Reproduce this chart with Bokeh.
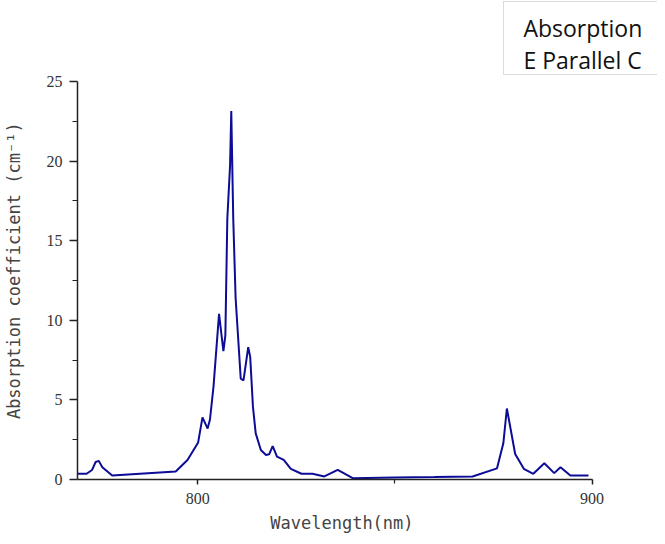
from bokeh.plotting import figure
from bokeh.models import Range1d, FixedTicker, BoxAnnotation, Label
from bokeh.embed import file_html
from bokeh.resources import INLINE

wavelength = [769.6, 771.8, 773.2, 774.1, 774.9, 775.8, 778.3, 794.4, 797.4, 800.1,
              801.2, 802.5, 803.1, 804.0, 805.4, 806.5, 807.0, 807.5, 808.2, 808.5,
              809.0, 809.6, 810.9, 811.6, 812.8, 813.3, 814.0, 814.7, 816.0, 817.3,
              818.1, 819.0, 820.1, 821.8, 823.6, 826.3, 829.1, 832.1, 835.5, 839.3,
              850.0, 860.0, 869.7, 875.9, 877.5, 878.4, 880.5, 882.7, 885.1, 887.9,
              890.4, 892.0, 894.5, 899.1]
absorption = [0.36, 0.36, 0.6, 1.1, 1.17, 0.77, 0.25, 0.5, 1.23, 2.33,
              3.9, 3.2, 3.77, 5.85, 10.4, 8.06, 9.06, 16.4, 19.75, 23.15,
              16.4, 11.4, 6.33, 6.23, 8.31, 7.7, 4.56, 2.9, 1.85, 1.54,
              1.58, 2.1, 1.44, 1.23, 0.67, 0.36, 0.36, 0.19, 0.6, 0.08,
              0.12, 0.15, 0.19, 0.7, 2.27, 4.46, 1.6, 0.67, 0.36, 1.02,
              0.4, 0.77, 0.25, 0.25]

x_ticks = [800, 900]
x_minor = [850]
y_ticks = [0, 5, 10, 15, 20, 25]
y_minor = [2.5, 7.5, 12.5, 17.5, 22.5]
legend_lines = ["Absorption", "E Parallel C"]
x_title = "Wavelength(nm)"
y_title = "Absorption coefficient (cm⁻¹)"

# frame spans to the top and right canvas edges; axes are bounded to the data window
p = figure(width=657, height=536, output_backend="svg", toolbar_location=None,
           x_range=Range1d(769.5, 916.6), y_range=Range1d(0, 30.09),
           min_border_left=77, min_border_right=0, min_border_top=0, min_border_bottom=57)
p.outline_line_color = None
p.grid.grid_line_color = None
p.background_fill_color = "white"

p.line(wavelength, absorption, line_color="#0c0c96", line_width=2)

for ax in (p.xaxis[0], p.yaxis[0]):
    ax.axis_line_color = "#222222"
    ax.axis_line_width = 1.5
    ax.major_tick_line_color = "#222222"
    ax.minor_tick_line_color = "#222222"
    ax.major_tick_line_width = 1.5
    ax.minor_tick_line_width = 1.2
    ax.major_tick_in = 0
    ax.minor_tick_in = 0
    ax.major_label_text_font = "Liberation Serif"
    ax.major_label_text_font_size = "16px"
    ax.major_label_text_color = "#333333"
    ax.axis_label_text_font = "DejaVu Sans Mono"
    ax.axis_label_text_font_size = "17px"
    ax.axis_label_text_font_style = "normal"
    ax.axis_label_text_color = "#444444"

p.xaxis.bounds = (769.5, 900)
p.yaxis.bounds = (0, 25)
p.xaxis.ticker = FixedTicker(ticks=x_ticks, minor_ticks=x_minor)
p.yaxis.ticker = FixedTicker(ticks=y_ticks, minor_ticks=y_minor)
p.xaxis.major_tick_out = 5
p.xaxis.minor_tick_out = 4
p.yaxis.major_tick_out = 8
p.yaxis.minor_tick_out = 5
p.xaxis.major_label_standoff = 8
p.yaxis.major_label_standoff = 7
# trailing no-break spaces re-centre the titles on the bounded axes
p.xaxis.axis_label = x_title + "\u00a0" * 5
p.yaxis.axis_label = y_title + "\u00a0" * 6
p.xaxis.axis_label_standoff = 6
p.yaxis.axis_label_standoff = 20

box = BoxAnnotation(left=877.55, right=940, bottom=25.44, top=30.03,
                    fill_color="white", fill_alpha=1.0,
                    line_color="#888888", line_width=1)
p.add_layout(box)
p.add_layout(Label(x=882.6, y=28.37, text=legend_lines[0], text_font="Open Sans",
                   text_font_size="23px", text_color="#111111", text_baseline="alphabetic"))
p.add_layout(Label(x=882.6, y=26.38, text=legend_lines[1], text_font="Open Sans",
                   text_font_size="23px", text_color="#111111", text_baseline="alphabetic"))

open("out.html", "w").write(file_html(p, INLINE))
